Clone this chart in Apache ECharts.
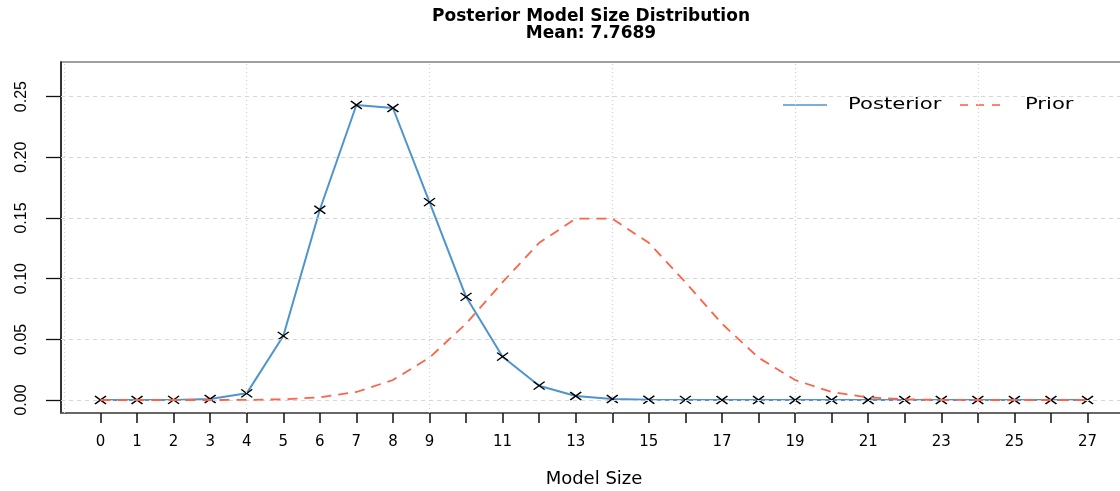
<!DOCTYPE html>
<html>
<head>
<meta charset="utf-8">
<script src="https://cdn.jsdelivr.net/npm/echarts@6/dist/echarts.min.js"></script>
<style>
html,body{margin:0;padding:0;background:#ffffff;}
#chart{width:1120px;height:491px;}
</style>
</head>
<body>
<div id="chart"></div>
<script>
// ---- data ----
const modelSizes = [0,1,2,3,4,5,6,7,8,9,10,11,12,13,14,15,16,17,18,19,20,21,22,23,24,25,26,27];
const posterior = [0.0000,0.0000,0.0001,0.0008,0.0055,0.0528,0.1568,0.2431,0.2406,0.1631,0.0850,0.0357,0.0118,0.0033,0.0008,0.0002,0.0001,0,0,0,0,0,0,0,0,0,0,0];
const prior = [0.0000,0.0000,0.0000,0.0000,0.0001,0.0006,0.0022,0.0066,0.0165,0.0349,0.0629,0.0971,0.1295,0.1494,0.1494,0.1295,0.0971,0.0629,0.0349,0.0165,0.0066,0.0022,0.0006,0.0001,0,0,0,0];
const xTickValues = modelSizes;
const xLabelValues = [0,1,2,3,4,5,6,7,8,9,11,13,15,17,19,21,23,25,27];
const yTickValues = [0,0.05,0.10,0.15,0.20,0.25];
const xGridValues = [-1,4,9,14,19,24];
const yGridValues = [0,0.05,0.10,0.15,0.20,0.25];
const titleText = 'Posterior Model Size Distribution';
const subtitleText = 'Mean: 7.7689';
const seriesNames = ['Posterior','Prior'];

const BLUE = '#4F94CD';
const RED = '#FF6347';

const chart = echarts.init(document.getElementById('chart'), null, {renderer:'canvas'});

const gridMarks = [];
xGridValues.forEach(v => gridMarks.push({xAxis: v, lineStyle:{type:[1,3], color:'#cfcfcf', width:1.2}}));
yGridValues.forEach(v => gridMarks.push({yAxis: v, lineStyle:{type:[4,4], color:'#d6d6d6', width:1}}));

const option = {
  animation: false,
  backgroundColor: '#ffffff',
  title: {
    text: titleText,
    subtext: subtitleText,
    left: 591,
    textAlign: 'center',
    top: 9,
    padding: 0,
    itemGap: 0,
    textStyle: {fontFamily:'DejaVu Sans', fontWeight:'bold', fontSize:17, lineHeight:16, color:'#000'},
    subtextStyle: {fontFamily:'DejaVu Sans', fontWeight:'bold', fontSize:17, lineHeight:16, color:'#000'}
  },
  grid: {
    left: 61, top: 62, right: -7, bottom: 78,
    show: true, borderColor: '#808080', borderWidth: 1.5,
    containLabel: false,
    outerBoundsMode: 'none'
  },
  xAxis: {
    type: 'value',
    min: -1.08, max: 28.08,
    name: 'Model Size',
    nameLocation: 'middle',
    nameGap: 57,
    nameTextStyle: {fontFamily:'DejaVu Sans', fontSize:18, color:'#000'},
    axisLine: {show:true, onZero:false, lineStyle:{color:'#555', width:1.5}},
    axisTick: {show:true, customValues: xTickValues, length:10, lineStyle:{color:'#111', width:1.5}},
    axisLabel: {show:true, customValues: xLabelValues, margin:22, fontFamily:'DejaVu Sans', fontSize:15, color:'#000',
                formatter: v => String(Math.round(v))},
    splitLine: {show:false}
  },
  yAxis: {
    type: 'value',
    min: -0.0107, max: 0.2785,
    axisLine: {show:true, onZero:false, lineStyle:{color:'#111', width:1.5}},
    axisTick: {show:true, customValues: yTickValues, length:15, lineStyle:{color:'#111', width:1.3}},
    axisLabel: {show:true, customValues: yTickValues, rotate:90, margin:31, fontFamily:'Liberation Sans', fontSize:16, color:'#000',
                formatter: v => v.toFixed(2)},
    splitLine: {show:false}
  },
  graphic: [
    {type:'line', shape:{x1:783, y1:105, x2:827, y2:105}, style:{stroke:BLUE, lineWidth:1.6}, silent:true},
    {type:'text', x:848, y:105, scaleX:1.32, style:{text:seriesNames[0], font:'16px "DejaVu Sans"', fill:'#000', textVerticalAlign:'middle', textAlign:'left'}, silent:true},
    {type:'line', shape:{x1:960, y1:105, x2:1003, y2:105}, style:{stroke:RED, lineWidth:1.6, lineDash:[8,8]}, silent:true},
    {type:'text', x:1025, y:105, scaleX:1.32, style:{text:seriesNames[1], font:'16px "DejaVu Sans"', fill:'#000', textVerticalAlign:'middle', textAlign:'left'}, silent:true}
  ],
  series: [
    {
      name: seriesNames[0],
      type: 'line',
      z: 2,
      data: modelSizes.map((x,i) => [x, posterior[i]]),
      showAllSymbol: true,
      symbol: 'path://M0,0L10,10M0,10L10,0',
      symbolSize: [11,8],
      itemStyle: {color:'#000', borderColor:'#000', borderWidth:1.4},
      lineStyle: {color: BLUE, width: 2},
      markLine: {
        silent: true, symbol: ['none','none'], z: 3,
        label: {show:false},
        emphasis: {disabled:true},
        animation: false,
        data: gridMarks
      }
    },
    {
      name: seriesNames[1],
      type: 'line',
      z: 6,
      data: modelSizes.map((x,i) => [x, prior[i]]),
      symbol: 'none',
      lineStyle: {color: RED, width: 1.8, type: [10,7]}
    }
  ]
};
chart.setOption(option);
</script>
</body>
</html>
